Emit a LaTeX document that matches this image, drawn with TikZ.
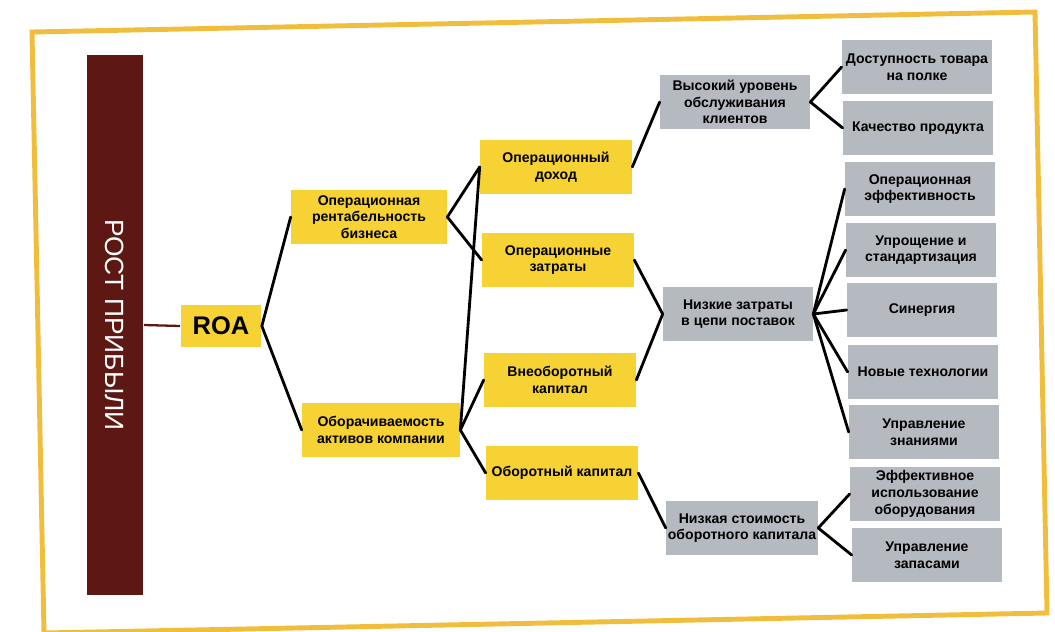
\documentclass[tikz,border=0pt]{standalone}
\usepackage{fontspec}
\setmainfont{Liberation Sans}
\usepackage{xcolor}
\usepackage{tikz}
\usetikzlibrary{positioning}

\definecolor{roayellow}{RGB}{246,210,52}
\definecolor{leafgray}{RGB}{181,185,192}
\definecolor{barred}{RGB}{94,24,20}
\definecolor{framegold}{RGB}{240,190,60}

\begin{document}
\begin{tikzpicture}[x=0.02cm,y=-0.02cm,
    box/.style={minimum width=3.04cm,minimum height=1.07cm,inner sep=1pt,align=center,
      font=\fontsize{8}{9.5}\selectfont\bfseries},
    ybox/.style={box,fill=roayellow},
    gbox/.style={box,fill=leafgray,minimum width=3cm},
    link/.style={line width=1.6pt,line cap=round}]
  \useasboundingbox (0,0) rectangle (1055,632);
  \draw[framegold,line width=2.8pt] (32,32) -- (1035,12) -- (1047,613) -- (44,633) -- cycle;

  \node[fill=barred,text=white,rotate=-90,minimum width=10.8cm,minimum height=1.14cm,
    font=\fontsize{15}{15}\selectfont] (bar) at (115,325) {РОСТ ПРИБЫЛИ};
  \node[ybox,minimum width=1.62cm,minimum height=0.84cm,
    font=\fontsize{14.5}{15}\selectfont\bfseries] (roa) at (221,326) {ROA};

  % second and third level
  \node[ybox,minimum width=3.12cm] (orb) at (369,217) {Операционная\\рентабельность\\бизнеса};
  \node[ybox,minimum width=3.16cm] (oak) at (381,430) {Оборачиваемость\\активов компании};
  \node[ybox] (od) at (556,167) {Операционный\\доход};
  \node[ybox] (oz) at (558,260) {Операционные\\затраты};
  \node[ybox] (vk) at (560,380) {Внеоборотный\\капитал};
  \node[ybox] (obk) at (562,473) {Оборотный капитал};

  % grey drivers
  \node[gbox] (vu) at (735,102) {Высокий уровень\\обслуживания\\клиентов};
  \node[gbox] (nz) at (738,314) {Низкие затраты\\в цепи поставок};
  \node[gbox] (ns) at (742,528) {Низкая стоимость\\оборотного капитала};

  \node[gbox] (dt) at (917,67) {Доступность товара\\на полке};
  \node[gbox] (kp) at (918,128) {Качество продукта};
  \node[gbox] (oe) at (920,189) {Операционная\\эффективность};
  \node[gbox] (us) at (921,250) {Упрощение и\\стандартизация};
  \node[gbox] (sn) at (922,310) {Синергия};
  \node[gbox] (nt) at (923,372) {Новые технологии};
  \node[gbox] (uz) at (924,432) {Управление\\знаниями};
  \node[gbox] (ei) at (925,494) {Эффективное\\использование\\оборудования};
  \node[gbox] (uzp) at (927,555) {Управление\\запасами};

  \draw[barred,line width=1.3pt] (bar.north) -- (roa.west);
  \path[link]
    (roa.east) edge (orb.west) edge (oak.west)
    (orb.east) edge (od.west) edge (oz.west)
    (oak.east) edge (od.west) edge (vk.west) edge (obk.west)
    (od.east) edge (vu.west)
    (oz.east) edge (nz.west)
    (vk.east) edge (nz.west)
    (obk.east) edge (ns.west)
    (vu.east) edge (dt.west) edge (kp.west)
    (nz.east) edge (oe.west) edge (us.west) edge (sn.west) edge (nt.west) edge (uz.west)
    (ns.east) edge (ei.west) edge (uzp.west);
\end{tikzpicture}
\end{document}
